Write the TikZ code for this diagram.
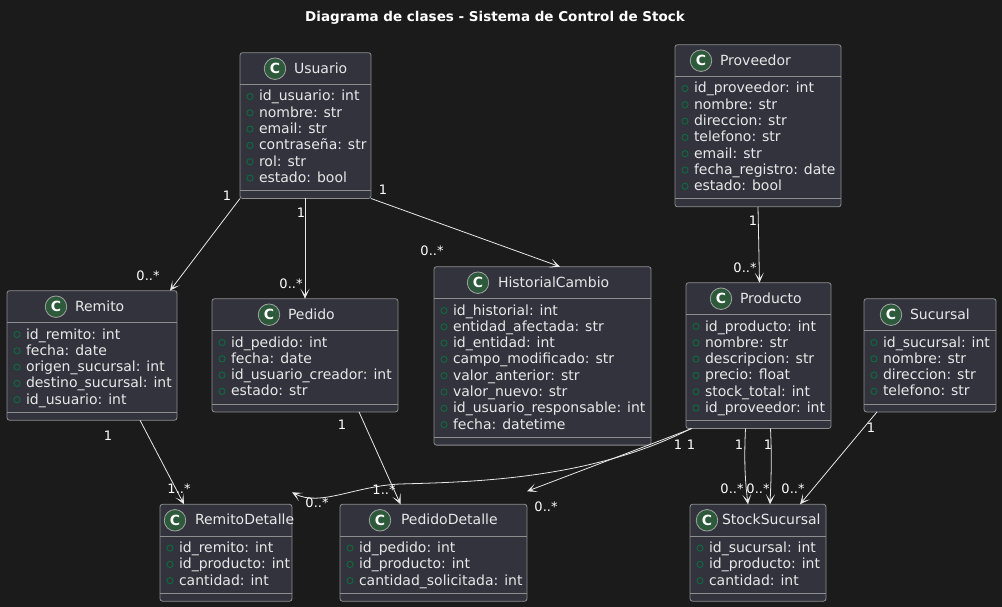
\documentclass[tikz,border=0pt]{standalone}
\usepackage{fontspec}
\setmainfont{DejaVu Sans}
\usetikzlibrary{arrows.meta,calc}
\definecolor{bgc}{HTML}{1B1B1B}
\definecolor{boxc}{HTML}{32333D}
\definecolor{edgec}{HTML}{8E8E8E}
\definecolor{txtc}{HTML}{E8E8E8}
\definecolor{iconc}{HTML}{2C5A3A}
\definecolor{dotc}{HTML}{0E6B40}
\tikzset{
  classbox/.style={draw=edgec,fill=boxc,line width=.8pt,rounded corners=2.5pt,inner sep=0pt,outer sep=0pt},
  sepline/.style={draw=edgec,line width=.8pt},
  txt/.style={text=txtc,inner sep=0pt,outer sep=0pt,anchor=base west,font=\fontsize{14}{16}\selectfont},
  icon/.style={circle,draw=txtc!70!black,fill=iconc,line width=.8pt,minimum size=21.5pt,inner sep=0pt,text=white,font=\fontsize{14}{16}\selectfont\bfseries},
  dot/.style={circle,draw=dotc,line width=.9pt,minimum size=6.2pt,inner sep=0pt},
  conn/.style={draw=txtc,line width=.8pt,-{Stealth[length=10pt,width=9pt,inset=6pt]}},
  lab/.style={text=white,inner sep=0pt,outer sep=0pt,font=\fontsize{13}{15}\selectfont},
}
% \cls{id}{x1}{y1}{x2}{nrows}{icon cx}{title x}{title}{rows}
\newcommand{\cls}[9]{%
  \pgfmathsetmacro{\myh}{32+16.3*#5+16}
  \pgfmathsetmacro{\myw}{#4-#2}
  \pgfmathsetmacro{\mycx}{(#2+#4)/2}
  \pgfmathsetmacro{\mycy}{#3+\myh/2}
  \pgfmathsetmacro{\mysa}{#3+32}
  \pgfmathsetmacro{\mysb}{#3+32+16.3*#5+8}
  \node[classbox,minimum width=\myw pt,minimum height=\myh pt] (#1) at (\mycx,\mycy) {};
  \draw[sepline] (#2,\mysa) -- (#4,\mysa);
  \draw[sepline] (#2,\mysb) -- (#4,\mysb);
  \node[icon] (#1-icon) at (#6,#3+16) {C};
  \node[txt] (#1-title) at (#7,#3+20.5) {#8};
  \foreach \r [count=\i] in {#9}{
    \pgfmathsetmacro{\ry}{#3+32+16.3*\i}
    \node[dot] (#1-dot\i) at (#2+10,\ry-4.5) {};
    \node[txt] (#1-row\i) at (#2+19,\ry) {\r};
  }%
}
\begin{document}
\begin{tikzpicture}[x=1pt,y=-1pt]
\useasboundingbox (0,0) rectangle (1002,607);
\fill[bgc] (0,0) rectangle (1002,607);
\node[text=white,inner sep=0pt,font=\fontsize{13.5}{16}\selectfont\bfseries] (maintitle) at (495,18) {Diagrama de clases - Sistema de Control de Stock};

\cls{usuario}{240}{52.7}{371}{6}{275}{294}{Usuario}{id\_usuario: int,nombre: str,email: str,contraseña: str,rol: str,estado: bool}
\cls{proveedor}{675}{44.7}{841}{7}{701}{720}{Proveedor}{id\_proveedor: int,nombre: str,direccion: str,telefono: str,email: str,fecha\_registro: date,estado: bool}
\cls{remito}{7}{290.7}{177}{5}{56}{75}{Remito}{id\_remito: int,fecha: date,origen\_sucursal: int,destino\_sucursal: int,id\_usuario: int}
\cls{pedido}{212}{298.7}{398}{4}{269}{288}{Pedido}{id\_pedido: int,fecha: date,id\_usuario\_creador: int,estado: str}
\cls{historial}{434}{266.7}{651}{8}{478}{498}{HistorialCambio}{id\_historial: int,entidad\_afectada: str,id\_entidad: int,campo\_modificado: str,valor\_anterior: str,valor\_nuevo: str,id\_usuario\_responsable: int,fecha: datetime}
\cls{producto}{686}{282.7}{831}{6}{721}{740}{Producto}{id\_producto: int,nombre: str,descripcion: str,precio: float,stock\_total: int,id\_proveedor: int}
\cls{sucursal}{864}{298.7}{996}{4}{891}{910}{Sucursal}{id\_sucursal: int,nombre: str,direccion: str,telefono: str}
\cls{remitodet}{160}{504.3}{292}{3}{175}{195}{RemitoDetalle}{id\_remito: int,id\_producto: int,cantidad: int}
\cls{pedidodet}{340}{504.3}{527}{3}{380}{401}{PedidoDetalle}{id\_pedido: int,id\_producto: int,cantidad\_solicitada: int}
\cls{stock}{690}{504.3}{826}{3}{707}{722}{StockSucursal}{id\_sucursal: int,id\_producto: int,cantidad: int}

\draw[conn] (usuario.south west) -- ([xshift=-7pt]remito.north east);
\draw[conn] ([xshift=-.5pt]usuario.south) -- ([xshift=0pt]pedido.north);
\draw[conn] (usuario.south east) -- ([xshift=-91pt]historial.north east);
\draw[conn] ([xshift=0pt]proveedor.south) -- ([xshift=1pt]producto.north);
\draw[conn] ([xshift=-37pt]remito.south east) -- ([xshift=24pt]remitodet.north west);
\draw[conn] ([xshift=-39pt]pedido.south east) -- ([xshift=-33pt]pedidodet.north);
\draw[conn] ([xshift=5pt]producto.south west) .. controls (590,480) and (470,482) .. (400,484) .. controls (355,486) and (320,507) .. ([yshift=12pt]remitodet.north east);
\draw[conn] ([xshift=6pt]producto.south west) -- ([yshift=13pt]pedidodet.north east);
\draw[conn] ([xshift=-13pt]producto.south) .. controls (744,460) and (745,480) .. ([xshift=-10pt]stock.north);
\draw[conn] ([xshift=12pt]producto.south) .. controls (772,460) and (771,480) .. ([xshift=12pt]stock.north);
\draw[conn] ([xshift=13pt]sucursal.south west) -- ([xshift=-26pt]stock.north east);

\node[lab] (l1) at (227,196) {1};
\node[lab] (l2) at (148,276) {0..*};
\node[lab] (l3) at (301,213) {1};
\node[lab] (l4) at (291,284) {0..*};
\node[lab] (l5) at (383,190) {1};
\node[lab] (l6) at (432,251) {0..*};
\node[lab] (l7) at (753,221) {1};
\node[lab] (l8) at (745,268) {0..*};
\node[lab] (l9) at (108,436) {1};
\node[lab] (l10) at (179,489) {1..*};
\node[lab] (l11) at (342,425) {1};
\node[lab] (l12) at (384,490) {1..*};
\node[lab] (l13) at (678,445) {1};
\node[lab] (l14) at (691,445) {1};
\node[lab] (l15) at (317,503) {0..*};
\node[lab] (l16) at (546,507) {0..*};
\node[lab] (l17) at (739,445) {1};
\node[lab] (l18) at (768,445) {1};
\node[lab] (l19) at (732,489) {0..*};
\node[lab] (l20) at (758,489) {0..*};
\node[lab] (l21) at (793,489) {0..*};
\node[lab] (l22) at (871,428) {1};
\end{tikzpicture}
\end{document}
